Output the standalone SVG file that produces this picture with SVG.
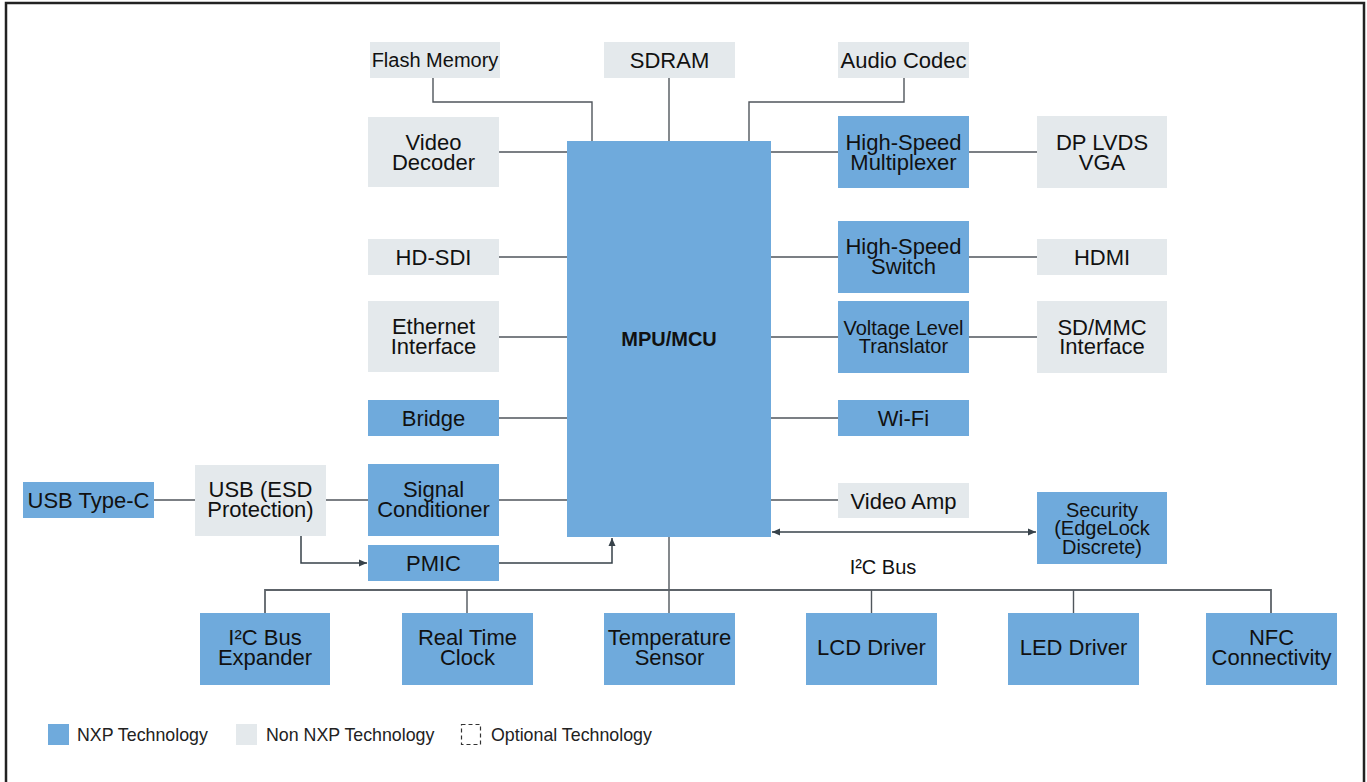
<svg xmlns="http://www.w3.org/2000/svg" width="1367" height="782" viewBox="0 0 1367 782">
<style>
.b{fill:#6FAADC}
.g{fill:#E4E9EC}
.t{font-family:"Liberation Sans",Arial,sans-serif;font-size:22px;fill:#111;text-anchor:middle}
.s{font-size:20px}
.lg{font-family:"Liberation Sans",Arial,sans-serif;font-size:17.8px;fill:#222}
.c{fill:none;stroke:#50565c;stroke-width:1.4}
.a{fill:none;stroke:#37424a;stroke-width:1.5}
</style>
<defs>
<marker id="ah" markerUnits="userSpaceOnUse" markerWidth="9" markerHeight="8" refX="8" refY="4" orient="auto-start-reverse">
<path d="M0,0.5 L8,4 L0,7.5 z" fill="#37424a"/>
</marker>
</defs>
<rect width="1367" height="782" fill="#fff"/>
<path d="M6,782 V3 H1364 V782" fill="none" stroke="#222" stroke-width="2.5"/>

<g id="connectors">
<path class="c" d="M433,78 V102 H592 V141"/>
<path class="c" d="M669,78 V141"/>
<path class="c" d="M904,78 V102 H749 V141"/>
<path class="c" d="M499,152 H567 M499,257 H567 M499,337 H567 M499,418 H567 M499,500 H567"/>
<path class="c" d="M771,152 H838 M969,152 H1037 M771,257 H838 M969,257 H1037 M771,337 H838 M969,337 H1037 M771,418 H838 M771,500 H838"/>
<path class="c" d="M154,500 H195 M326,500 H368"/>
<path class="a" d="M301,536 V563 H367" marker-end="url(#ah)"/>
<path class="a" d="M499,563 H612 V538" marker-end="url(#ah)"/>
<path class="a" d="M772,532 H1036" marker-start="url(#ah)" marker-end="url(#ah)"/>
<path class="c" d="M669,537 V613"/>
<path class="c" style="stroke-width:1.8;stroke:#5d6369" d="M265,613 V590 H1271 V613"/>
<path class="c" d="M467,590 V613 M871.5,590 V613 M1073.5,590 V613"/>
<text class="t s" x="883" y="574">I²C Bus</text>
</g>

<g id="mpu"><rect class="b" x="567" y="141" width="204" height="396"/><text class="t" x="669" y="346" style="font-weight:bold;font-size:20px">MPU/MCU</text></g>

<g id="flash"><rect class="g" x="370" y="42" width="130" height="36"/><text class="t s" x="435" y="67">Flash Memory</text></g>
<g id="sdram"><rect class="g" x="604" y="42" width="131" height="36"/><text class="t" x="669.5" y="68">SDRAM</text></g>
<g id="audio"><rect class="g" x="838" y="42" width="131" height="36"/><text class="t" x="903.5" y="68">Audio Codec</text></g>

<g id="videodec"><rect class="g" x="368" y="117" width="131" height="70"/><text class="t" x="433.5" y="150">Video</text><text class="t" x="433.5" y="169.5">Decoder</text></g>
<g id="hdsdi"><rect class="g" x="368" y="239" width="131" height="36"/><text class="t" x="433.5" y="265">HD-SDI</text></g>
<g id="ethernet"><rect class="g" x="368" y="301" width="131" height="71"/><text class="t" x="433.5" y="334">Ethernet</text><text class="t" x="433.5" y="353.5">Interface</text></g>
<g id="bridge"><rect class="b" x="368" y="400" width="131" height="36"/><text class="t" x="433.5" y="426">Bridge</text></g>
<g id="sigcond"><rect class="b" x="368" y="464" width="131" height="72"/><text class="t" x="433.5" y="497">Signal</text><text class="t" x="433.5" y="516.5">Conditioner</text></g>
<g id="pmic"><rect class="b" x="368" y="545" width="131" height="36"/><text class="t" x="433.5" y="571">PMIC</text></g>

<g id="usbc"><rect class="b" x="23" y="482" width="131" height="36"/><text class="t" x="88.5" y="508">USB Type-C</text></g>
<g id="usbesd"><rect class="g" x="195" y="465" width="131" height="71"/><text class="t" x="260.5" y="497">USB (ESD</text><text class="t" x="260.5" y="516.5">Protection)</text></g>

<g id="hsmux"><rect class="b" x="838" y="116" width="131" height="72"/><text class="t" x="903.5" y="150">High-Speed</text><text class="t" x="903.5" y="169.5">Multiplexer</text></g>
<g id="dp"><rect class="g" x="1037" y="116" width="130" height="72"/><text class="t" x="1102" y="150">DP LVDS</text><text class="t" x="1102" y="169.5">VGA</text></g>
<g id="hsswitch"><rect class="b" x="838" y="221" width="131" height="72"/><text class="t" x="903.5" y="254">High-Speed</text><text class="t" x="903.5" y="273.5">Switch</text></g>
<g id="hdmi"><rect class="g" x="1037" y="239" width="130" height="36"/><text class="t" x="1102" y="265">HDMI</text></g>
<g id="vlt"><rect class="b" x="838" y="301" width="131" height="72"/><text class="t s" x="903.5" y="334.5">Voltage Level</text><text class="t s" x="903.5" y="353">Translator</text></g>
<g id="sdmmc"><rect class="g" x="1037" y="301" width="130" height="72"/><text class="t" x="1102" y="334.5">SD/MMC</text><text class="t" x="1102" y="354">Interface</text></g>
<g id="wifi"><rect class="b" x="838" y="400" width="131" height="36"/><text class="t" x="903.5" y="426">Wi-Fi</text></g>
<g id="videoamp"><rect class="g" x="838" y="483" width="131" height="35"/><text class="t" x="903.5" y="508.5">Video Amp</text></g>
<g id="security"><rect class="b" x="1037" y="492" width="130" height="72"/><text class="t s" x="1102" y="516.5">Security</text><text class="t s" x="1102" y="535">(EdgeLock</text><text class="t s" x="1102" y="553.5">Discrete)</text></g>

<g id="i2cexp"><rect class="b" x="200" y="613" width="130" height="72"/><text class="t" x="265" y="645">I²C Bus</text><text class="t" x="265" y="664.5">Expander</text></g>
<g id="rtc"><rect class="b" x="402" y="613" width="131" height="72"/><text class="t" x="467.5" y="645">Real Time</text><text class="t" x="467.5" y="664.5">Clock</text></g>
<g id="temp"><rect class="b" x="604" y="613" width="131" height="72"/><text class="t" x="669.5" y="645">Temperature</text><text class="t" x="669.5" y="664.5">Sensor</text></g>
<g id="lcd"><rect class="b" x="806" y="613" width="131" height="72"/><text class="t" x="871.5" y="655">LCD Driver</text></g>
<g id="led"><rect class="b" x="1008" y="613" width="131" height="72"/><text class="t" x="1073.5" y="655">LED Driver</text></g>
<g id="nfc"><rect class="b" x="1206" y="613" width="131" height="72"/><text class="t" x="1271.5" y="645">NFC</text><text class="t" x="1271.5" y="664.5">Connectivity</text></g>

<g id="legend">
<rect class="b" x="48" y="724" width="21" height="21"/><text class="lg" x="77" y="741">NXP Technology</text>
<rect class="g" x="236" y="724" width="21" height="21"/><text class="lg" x="266" y="741">Non NXP Technology</text>
<rect x="461.5" y="724.5" width="19" height="20" fill="none" stroke="#333" stroke-width="1.2" stroke-dasharray="4 3"/><text class="lg" x="491" y="741">Optional Technology</text>
</g>
</svg>
